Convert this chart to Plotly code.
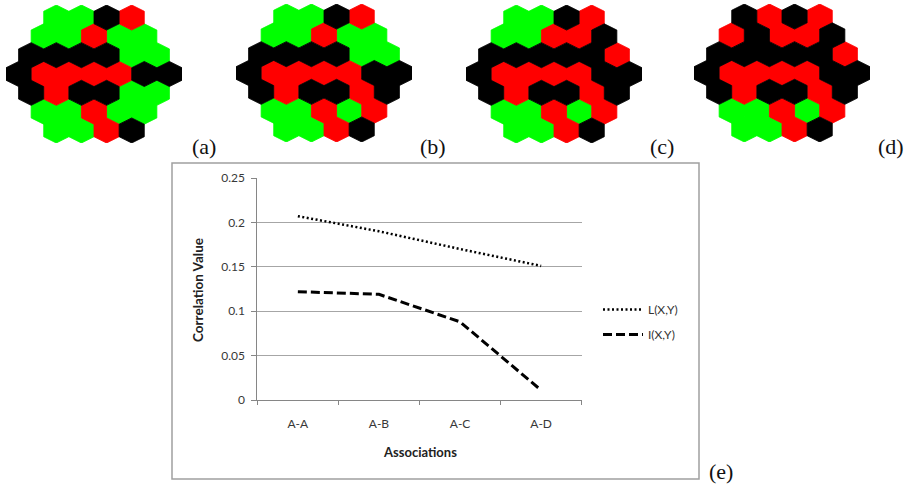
import plotly.graph_objects as go

# ---------------- data ----------------
categories = ["A-A", "A-B", "A-C", "A-D"]
l_values = [0.207, 0.190, 0.170, 0.151]
i_values = [0.122, 0.119, 0.088, 0.011]
y_ticks = [0, 0.05, 0.1, 0.15, 0.2, 0.25]

# hex grid cell states (G = green, R = red, K = black), rows top to bottom
grid_a = ["GGKR", "GGRGG", "KKKKGG", "KRRRRKK", "KRKKGG", "GGRGG", "GGRK"]
grid_b = ["GGKR", "GGRGG", "KKKKGG", "KRRRRKK", "KRKKRK", "GGRGR", "GGRK"]
grid_c = ["GGKR", "GGRRK", "KKKKKR", "KRRRRKK", "KRKKRK", "GGRGR", "GGRK"]
grid_d = ["KRKR", "RKRRK", "KKKKKR", "KRRRRKK", "KRKKRK", "GGRGR", "GGRK"]
grid_labels = ["(a)", "(b)", "(c)", "(d)"]

W, H = 918, 488
COLORS = {"G": "#00FF00", "R": "#FF0000", "K": "#000000"}

fig = go.Figure()

# ---------------- hexagon grids ----------------
grids = [grid_a, grid_b, grid_c, grid_d]
boxes = [(6, 5), (236, 4), (466, 5), (694, 4)]
GW, GH = 176, 138
label_pos = [(204, 146), (433, 146), (662, 146), (891, 146)]

for gi, (grid, (bx, by)) in enumerate(zip(grids, boxes)):
    ax = gi + 2
    xs = {k: [] for k in COLORS}
    ys = {k: [] for k in COLORS}
    for r, row in enumerate(grid):
        n = len(row)
        cy = 11 - (1 + 1.5 * r)
        for j, c in enumerate(row):
            cx = 0.5 + (7 - n) / 2 + j
            xs[c] += [cx, cx + 0.5, cx + 0.5, cx, cx - 0.5, cx - 0.5, cx, None]
            ys[c] += [cy + 1, cy + 0.5, cy - 0.5, cy - 1, cy - 0.5, cy + 0.5, cy + 1, None]
    for c in COLORS:
        fig.add_trace(go.Scatter(
            x=xs[c], y=ys[c], mode="lines", fill="toself",
            fillcolor=COLORS[c], line=dict(color=COLORS[c], width=0.8),
            xaxis=f"x{ax}", yaxis=f"y{ax}", showlegend=False, hoverinfo="skip"))
    fig.update_layout(**{
        f"xaxis{ax}": dict(domain=[bx / W, (bx + GW) / W], range=[0, 7], automargin=False,
                           visible=False, fixedrange=True, anchor=f"y{ax}"),
        f"yaxis{ax}": dict(domain=[1 - (by + GH) / H, 1 - by / H], range=[0, 11], automargin=False,
                           visible=False, fixedrange=True, anchor=f"x{ax}"),
    })

# ---------------- line chart ----------------
fig.add_trace(go.Scatter(
    x=categories, y=l_values, mode="lines", name="L(X,Y)",
    line=dict(color="black", width=2.5, dash="2px,2.5px"), legendgroup="l"))
fig.add_trace(go.Scatter(
    x=categories, y=i_values, mode="lines", name="I(X,Y)",
    line=dict(color="black", width=3, dash="9px,4px"), legendgroup="i"))

FONT = "Lato, Liberation Sans, sans-serif"
tick_font = dict(family=FONT, size=12, color="#383838")
fig.update_layout(
    width=W, height=H,
    margin=dict(l=0, r=0, t=0, b=0, autoexpand=False),
    paper_bgcolor="white", plot_bgcolor="white",
    xaxis=dict(domain=[257.3 / W, 581.7 / W], type="category",
               categoryorder="array", categoryarray=categories,
               range=[-0.5, 3.5], tickson="boundaries", ticks="outside",
               ticklen=4, tickcolor="#868686", showline=True, linecolor="#868686",
               linewidth=1, showgrid=False, zeroline=False, tickfont=tick_font,
               ticklabelstandoff=13, fixedrange=True, anchor="y", automargin=False),
    yaxis=dict(domain=[1 - 400 / H, 1 - 178 / H], range=[0, 0.25],
               tickvals=y_ticks, ticktext=[f"{v:g}" for v in y_ticks],
               ticks="outside", ticklen=5, tickcolor="#868686",
               showline=True, linecolor="#868686", linewidth=1,
               showgrid=True, gridcolor="#a6a6a6", gridwidth=1, zeroline=False,
               tickfont=tick_font, ticklabelstandoff=4, fixedrange=True, anchor="x",
               automargin=False),
    legend=dict(x=598 / W, y=1 - 322 / H, xanchor="left", yanchor="middle",
                font=dict(family=FONT, size=12, color="#333333"),
                bgcolor="rgba(0,0,0,0)", tracegroupgap=6, itemwidth=40),
    shapes=[dict(type="rect", xref="paper", yref="paper",
                 x0=172 / W, x1=699 / W, y0=1 - 479 / H, y1=1 - 163 / H,
                 line=dict(color="#a0a0a0", width=1.5), fillcolor="rgba(0,0,0,0)",
                 layer="below")],
)

annotations = [
    dict(text="<b>Associations</b>", x=420 / W, y=1 - 452 / H, xref="paper", yref="paper",
         showarrow=False, font=dict(family=FONT, size=13, color="#222222"),
         xanchor="center", yanchor="middle"),
    dict(text="<b>Correlation Value</b>", x=198 / W, y=1 - 290 / H, xref="paper", yref="paper",
         showarrow=False, textangle=-90,
         font=dict(family=FONT, size=13.5, color="#222222"),
         xanchor="center", yanchor="middle"),
    dict(text="(e)", x=721 / W, y=1 - 471 / H, xref="paper", yref="paper", showarrow=False,
         font=dict(family="Liberation Serif, serif", size=22, color="#111111"),
         xanchor="center", yanchor="middle"),
]
for lab, (lx, ly) in zip(grid_labels, label_pos):
    annotations.append(dict(text=lab, x=lx / W, y=1 - ly / H, xref="paper", yref="paper",
                            showarrow=False,
                            font=dict(family="Liberation Serif, serif", size=22, color="#111111"),
                            xanchor="center", yanchor="middle"))
fig.update_layout(annotations=annotations)

fig.write_html("out.html", config={"displayModeBar": False},
               post_script="document.body.style.margin='0px';document.body.style.overflow='hidden';")
